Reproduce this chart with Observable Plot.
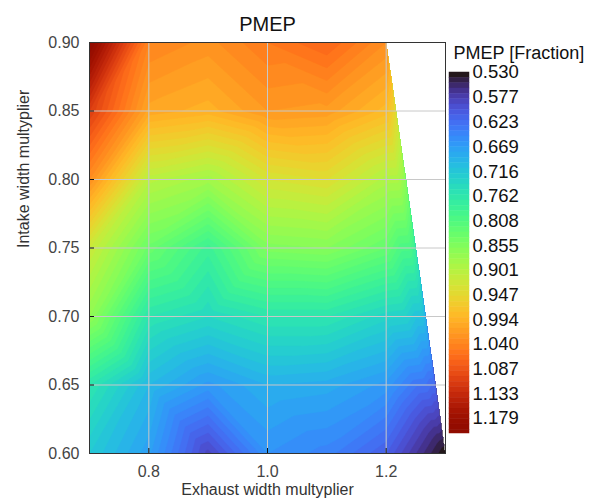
<!DOCTYPE html>
<html><head><meta charset="utf-8">
<script src="https://cdn.jsdelivr.net/npm/d3@7"></script>
<script src="https://cdn.jsdelivr.net/npm/@observablehq/plot@0.6"></script>
<style>
html,body{margin:0;padding:0;background:#fff;}
#wrap{position:relative;width:592px;height:499px;overflow:hidden;font-family:"Liberation Sans",Arial,sans-serif;}
#wrap svg{position:absolute;overflow:visible;}
</style></head><body><div id="wrap"></div>
<script>
// ---- data ----
const exhaust = [0.7, 0.8, 0.9, 1.0, 1.1, 1.2, 1.3];          // x: Exhaust width multyplier
const intake  = [0.60, 0.65, 0.70, 0.75, 0.80, 0.85, 0.90];    // y: Intake width multyplier
// PMEP [Fraction], one row per intake value, one column per exhaust value (null = no sample)
const pmep060 = [0.720, 0.673, 0.585, 0.660, 0.645, 0.610, 0.530];
const pmep065 = [0.760, 0.700, 0.666, 0.690, 0.685, 0.666, null];
const pmep070 = [0.870, 0.760, 0.740, 0.760, 0.760, 0.734, null];
const pmep075 = [0.920, 0.836, 0.785, 0.855, 0.860, 0.830, null];
const pmep080 = [1.030, 0.904, 0.884, 0.930, 0.940, 0.895, null];
const pmep085 = [1.110, 1.006, 0.995, 1.020, 1.016, 0.985, null];
const pmep090 = [1.205, 1.040, 1.026, 1.050, 1.070, 1.030, null];
const pmepRows = [pmep060, pmep065, pmep070, pmep075, pmep080, pmep085, pmep090];

const xTicks = [0.8, 1.0, 1.2];
const yTicks = [0.60, 0.65, 0.70, 0.75, 0.80, 0.85, 0.90];
const colorTicks = ["0.530","0.577","0.623","0.669","0.716","0.762","0.808","0.855","0.901","0.947","0.994","1.040","1.087","1.133","1.179"];
const colorDomain = [0.53, 1.207];
const title = "PMEP";
const colorTitle = "PMEP [Fraction]";
const xLabel = "Exhaust width multyplier";
const yLabel = "Intake width multyplier";

// ---- build samples ----
const points = [];
intake.forEach((y, j) => exhaust.forEach((x, i) => {
  const v = pmepRows[j][i];
  if (v != null) points.push({x, y, v});
}));
const thresholds = d3.range(52, 121).map(d => d / 100);

const bary = Plot.interpolatorBarycentric();
function maskedBarycentric(index, width, height, X, Y, V) {
  const W = bary(index, width, height, X, Y, V);
  const hull = d3.polygonHull(Array.from(index, i => [X[i], Y[i]]));
  for (let r = 0; r < height; ++r) {
    for (let c = 0; c < width; ++c) {
      if (!d3.polygonContains(hull, [c + 0.5, r + 0.5])) W[r * width + c] = -1e6;
    }
  }
  return W;
}

const font = '"Liberation Sans", Arial, sans-serif';
const color = {type: "linear", scheme: "turbo", domain: colorDomain};

const main = Plot.plot({
  width: 592, height: 499,
  marginLeft: 89, marginRight: 147, marginTop: 42, marginBottom: 46,
  x: {domain: [0.7, 1.3]},
  y: {domain: [0.6, 0.9]},
  color,
  style: {fontFamily: font, fontSize: "16px", background: "transparent", overflow: "visible"},
  marks: [
    Plot.contour(points, {x: "x", y: "y", value: "v", fill: "value", stroke: "value", strokeWidth: 0.5,
      thresholds, interpolate: maskedBarycentric, pixelSize: 1}),
    Plot.gridX(xTicks, {stroke: "#c8c8c8", strokeOpacity: 1}),
    Plot.gridY(yTicks, {stroke: "#c8c8c8", strokeOpacity: 1}),
    Plot.axisX(xTicks, {tickSize: 5, dy: -5, tickFormat: () => "", label: null, stroke: "#111"}),
    Plot.axisY(yTicks, {tickSize: 5, dx: 5, tickFormat: () => "", label: null, stroke: "#111"}),
    Plot.axisX(xTicks, {tickSize: 0, tickPadding: 12, tickFormat: ".1f", label: null, fontSize: 16, fill: "#444"}),
    Plot.axisY(yTicks, {tickSize: 0, tickPadding: 10, tickFormat: ".2f", label: null, fontSize: 16, fill: "#444"}),
    Plot.frame({stroke: "#333"}),
    Plot.text([title], {text: d => d, frameAnchor: "top", lineAnchor: "middle", dy: -18, fontSize: 20, fill: "#111"}),
    Plot.text([xLabel], {text: d => d, frameAnchor: "bottom", lineAnchor: "middle", dy: 36, fontSize: 16, fill: "#333"}),
    Plot.text([yLabel], {text: d => d, frameAnchor: "left", lineAnchor: "middle", dx: -66, rotate: -90, fontSize: 16, fill: "#333"})
  ]
});
main.style.left = "0px"; main.style.top = "0px";

const bands = thresholds.filter(t => t >= colorDomain[0] && t < colorDomain[1]);
const bar = Plot.plot({
  width: 145, height: 410,
  marginLeft: 3, marginRight: 122, marginTop: 32, marginBottom: 17,
  y: {domain: colorDomain, reverse: true, axis: null},
  color,
  style: {fontFamily: font, fontSize: "19px", background: "transparent", overflow: "visible"},
  marks: [
    Plot.rect(bands, {y1: d => d, y2: d => Math.min(d + 0.01, colorDomain[1]), fill: d => d, stroke: d => d, strokeWidth: 0.5}),
    Plot.text(colorTicks, {y: d => +d, text: d => d, frameAnchor: "right", textAnchor: "start", dx: 3, fontSize: 18.5, fill: "#111"}),
    Plot.text([colorTitle], {text: d => d, frameAnchor: "top-left", lineAnchor: "middle", textAnchor: "start", dx: 4, dy: -19, fontSize: 18, fill: "#111"})
  ]
});
bar.style.left = "446px"; bar.style.top = "40px";

const wrap = document.getElementById("wrap");
wrap.appendChild(main);
wrap.appendChild(bar);
</script>
</body></html>
